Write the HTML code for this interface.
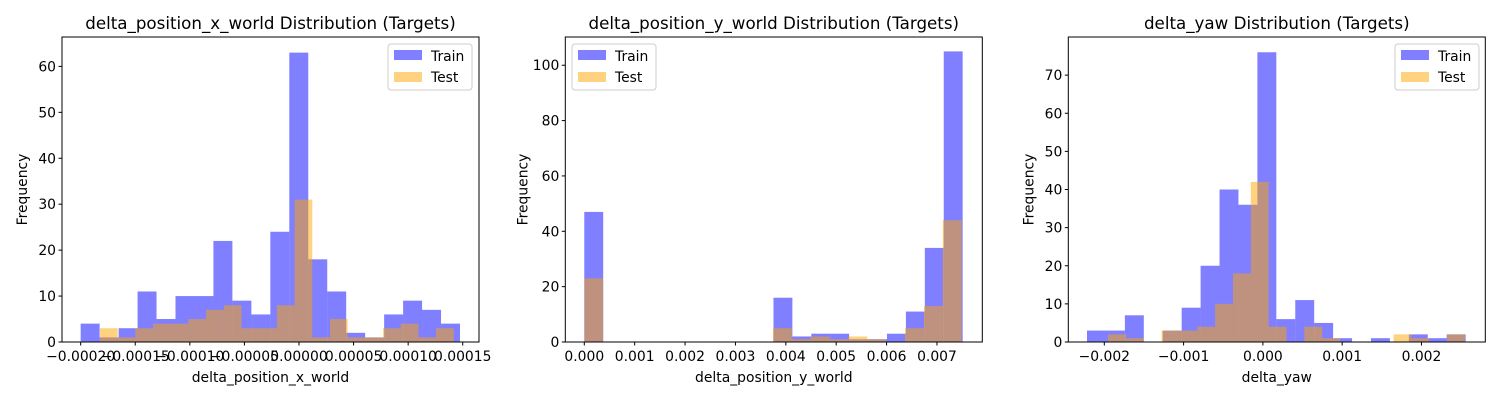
<!DOCTYPE html>
<html><head><meta charset="utf-8">
<style>
html,body{margin:0;padding:0;background:#fff;width:1500px;height:400px;overflow:hidden}
svg{font-family:"DejaVu Sans","Liberation Sans",sans-serif}
</style></head>
<body>
<svg id="fig" width="1500" height="400" viewBox="0 0 1500 400"></svg>
<script>
// Chart 1: delta_position_x_world
const c1TrainRange = [-0.0002, 0.0001475];
const c1TrainCounts = [4,1,3,11,5,10,10,22,9,6,24,63,18,11,2,1,6,9,7,4];
const c1TestRange = [-0.0001823, 0.0001418];
const c1TestCounts = [3,1,3,4,4,5,7,8,3,3,8,31,1,5,1,1,3,4,1,3];
const c1XTicks = [-0.0002,-0.00015,-0.0001,-0.00005,0,0.00005,0.0001,0.00015];
const c1XTickLabels = ["\u22120.00020","\u22120.00015","\u22120.00010","\u22120.00005","0.00000","0.00005","0.00010","0.00015"];
const c1YTicks = [0,10,20,30,40,50,60];
// Chart 2: delta_position_y_world
const c2TrainRange = [0, 0.00751];
const c2TrainCounts = [47,0,0,0,0,0,0,0,0,0,16,2,3,3,1,1,3,11,34,105];
const c2TestRange = [0, 0.00749];
const c2TestCounts = [23,0,0,0,0,0,0,0,0,0,5,1,2,1,2,1,0,5,13,44];
const c2XTicks = [0,0.001,0.002,0.003,0.004,0.005,0.006,0.007];
const c2XTickLabels = ["0.000","0.001","0.002","0.003","0.004","0.005","0.006","0.007"];
const c2YTicks = [0,20,40,60,80,100];
// Chart 3: delta_yaw
const c3TrainRange = [-0.002218, 0.002557];
const c3TrainCounts = [3,3,7,0,3,9,20,40,36,76,6,11,5,1,0,1,0,2,1,2];
const c3TestRange = [-0.001953, 0.002549];
const c3TestCounts = [2,1,0,3,3,4,10,18,42,4,0,4,1,0,0,0,2,1,0,2];
const c3XTicks = [-0.002,-0.001,0,0.001,0.002];
const c3XTickLabels = ["\u22120.002","\u22120.001","0.000","0.001","0.002"];
const c3YTicks = [0,10,20,30,40,50,60,70];

const NS="http://www.w3.org/2000/svg";
const fig=document.getElementById('fig');
function mk(tag,attrs,parent,text){const e=document.createElementNS(NS,tag);for(const k in attrs)e.setAttribute(k,attrs[k]);if(text!==undefined)e.textContent=text;(parent||fig).appendChild(e);return e;}

const charts=[
 {key:'x',title:'delta_position_x_world Distribution (Targets)',xlabel:'delta_position_x_world',left:62,right:479,xmin:-0.0002171,xmax:0.0001649,ymax:66.4,
  tr:c1TrainRange,tc:c1TrainCounts,er:c1TestRange,ec:c1TestCounts,xt:c1XTicks,xl:c1XTickLabels,yt:c1YTicks,legX:388},
 {key:'y',title:'delta_position_y_world Distribution (Targets)',xlabel:'delta_position_y_world',left:565.3,right:982.3,xmin:-0.000377,xmax:0.0079,ymax:110.2,
  tr:c2TrainRange,tc:c2TrainCounts,er:c2TestRange,ec:c2TestCounts,xt:c2XTicks,xl:c2XTickLabels,yt:c2YTicks,legX:572},
 {key:'yaw',title:'delta_yaw Distribution (Targets)',xlabel:'delta_yaw',left:1068.3,right:1485.3,xmin:-0.002454,xmax:0.002805,ymax:80,
  tr:c3TrainRange,tc:c3TrainCounts,er:c3TestRange,ec:c3TestCounts,xt:c3XTicks,xl:c3XTickLabels,yt:c3YTicks,legX:1395}
];
const TOP=37,BOT=342;
charts.forEach(c=>{
 const g=mk('g',{});
 
 
 const xs=v=>c.left+(v-c.xmin)/(c.xmax-c.xmin)*(c.right-c.left);
 const ys=v=>BOT-v/c.ymax*(BOT-TOP);
 function hist(range,counts,color,name){
  const w=(range[1]-range[0])/counts.length;
  counts.forEach((n,i)=>{
   if(n<=0)return;
   const x0=xs(range[0]+i*w),x1=xs(range[0]+(i+1)*w);
   const r=mk('rect',{x:x0,y:ys(n),width:x1-x0,height:ys(0)-ys(n),fill:color,'fill-opacity':0.5},g);
   
   
  });
 }
 hist(c.tr,c.tc,'#0000ff','train');
 hist(c.er,c.ec,'#ffa500','test');
 const fr=mk('rect',{x:c.left,y:TOP,width:c.right-c.left,height:BOT-TOP,fill:'none',stroke:'#000','stroke-width':1},g);
 
 
 c.xt.forEach((v,i)=>{
  const x=xs(v);
  mk('line',{x1:x,x2:x,y1:BOT,y2:BOT+3.5,stroke:'#000'},g);
  const t=mk('text',{x:x,y:BOT+19,'font-size':13.9,'text-anchor':'middle',fill:'#000'},g,c.xl[i]);
  
  
 });
 c.yt.forEach(v=>{
  const y=ys(v);
  mk('line',{x1:c.left-3.5,x2:c.left,y1:y,y2:y,stroke:'#000'},g);
  const t=mk('text',{x:c.left-6,y:y+5,'font-size':13.9,'text-anchor':'end',fill:'#000'},g,String(v));
  
  
 });
 const ti=mk('text',{x:(c.left+c.right)/2,y:29,'font-size':16.7,'text-anchor':'middle',fill:'#000'},g,c.title);
 
 
 const xl=mk('text',{x:(c.left+c.right)/2,y:382,'font-size':13.9,'text-anchor':'middle',fill:'#000'},g,c.xlabel);
 
 
 const yx=c.left-(c.key==='y'?38:35);
 const yl=mk('text',{x:yx,y:(TOP+BOT)/2,'font-size':13.9,'text-anchor':'middle',fill:'#000',transform:`rotate(-90 ${yx} ${(TOP+BOT)/2})`},g,'Frequency');
 
 
 const lg=mk('g',{},g);
 
 
 mk('rect',{x:c.legX,y:44,width:84,height:46,rx:3,fill:'#fff','fill-opacity':0.8,stroke:'#ccc'},lg);
 mk('rect',{x:c.legX+6,y:50,width:28,height:10,fill:'#0000ff','fill-opacity':0.5},lg);
 const l1=mk('text',{x:c.legX+43,y:61,'font-size':13.9,fill:'#000'},lg,'Train');
 
 
 mk('rect',{x:c.legX+6,y:72,width:28,height:10,fill:'#ffa500','fill-opacity':0.5},lg);
 const l2=mk('text',{x:c.legX+43,y:82,'font-size':13.9,fill:'#000'},lg,'Test');
 
 
});
</script>
</body></html>
